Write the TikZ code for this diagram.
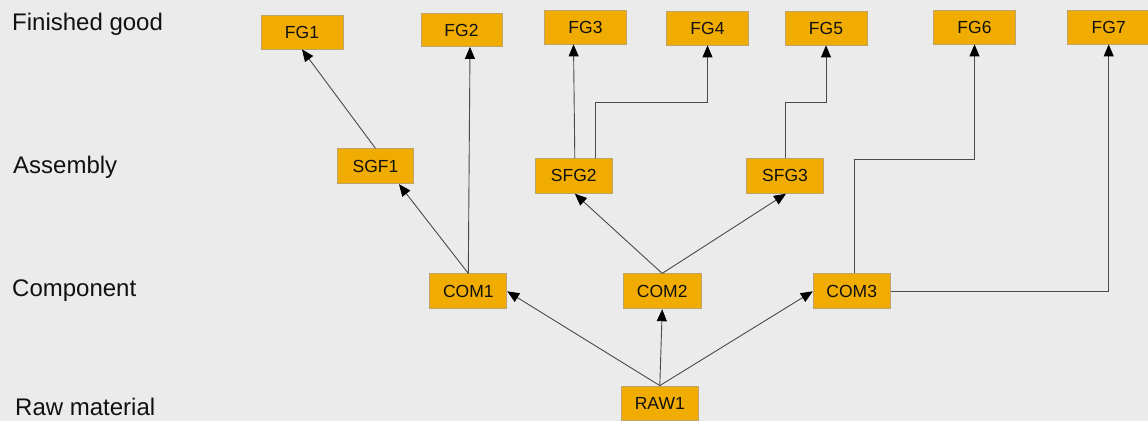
\documentclass[tikz,border=0pt]{standalone}
\usepackage{fontspec}
\setmainfont{Liberation Sans}
\usetikzlibrary{arrows.meta}
\definecolor{bg}{HTML}{EBEBEB}
\definecolor{boxfill}{HTML}{F0AC00}
\definecolor{boxline}{HTML}{BCA46A}
\definecolor{edgecol}{HTML}{4A4A4A}
\definecolor{txt}{HTML}{111111}
\tikzset{
  box/.style={draw=boxline, fill=boxfill, line width=0.8pt, inner sep=0pt,
    minimum width=77pt, minimum height=35pt, text=txt,
    font=\fontsize{17.5}{20}\selectfont},
  fgbox/.style={box, minimum width=82pt, minimum height=34pt},
  level/.style={anchor=base west, inner sep=0pt, text=txt,
    font=\fontsize{24}{28}\selectfont},
  arr/.style={draw=edgecol, line width=0.9pt,
    -{Triangle[length=12pt,width=10pt,color=black,fill=black]}},
}
\begin{document}
\begin{tikzpicture}[x=1pt, y=-1pt]
\fill[bg] (0,0) rectangle (1148,421);
\useasboundingbox (0,0) rectangle (1148,421);

% level labels
\node[level] (lfg) at (12,30.7) {Finished good};
\node[level] (las) at (13,173.3) {Assembly};
\node[level] (lco) at (12,296.7) {Component};
\node[level] (lra) at (15,415) {Raw material};

% finished goods
\node[fgbox] (fg1) at (302,32) {FG1};
\node[fgbox, minimum width=81pt, minimum height=33pt] (fg2) at (461.5,30) {FG2};
\node[fgbox] (fg3) at (585.5,27) {FG3};
\node[fgbox] (fg4) at (707.5,28) {FG4};
\node[fgbox] (fg5) at (826,28) {FG5};
\node[fgbox] (fg6) at (974.5,27) {FG6};
\node[fgbox] (fg7) at (1108.7,27) {FG7};

% assemblies
\node[box, minimum width=76pt] (sgf1) at (375.5,166.3) {SGF1};
\node[box] (sfg2) at (573.8,175.8) {SFG2};
\node[box] (sfg3) at (785,175.8) {SFG3};

% components
\node[box] (com1) at (468.3,291.3) {COM1};
\node[box, minimum width=78pt] (com2) at (662.2,291.3) {COM2};
\node[box] (com3) at (851.7,291.3) {COM3};

% raw material
\node[box, minimum height=34pt] (raw1) at (659.8,403) {RAW1};

% bend levels
\coordinate (bendA) at (0,102.3);
\coordinate (bendB) at (0,159.3);

% edges
\draw[arr] (sgf1.north) -- (fg1.south);
\draw[arr] (com1.north) -- ([xshift=23.5pt]sgf1.south);
\draw[arr] (com1.north) -- ([xshift=8.5pt]fg2.south);
\draw[arr] ([xshift=1pt]sfg2.north) -- ([xshift=-12pt]fg3.south);
\draw[arr] ([xshift=22pt]sfg2.north) |- (bendA -| fg4.south) -- (fg4.south);
\draw[arr] ([xshift=0.7pt]sfg3.north) |- (bendA -| fg5.south) -- (fg5.south);
\draw[arr] ([xshift=2.6pt]com3.north) |- (bendB -| fg6.south) -- (fg6.south);
\draw[arr] (com3.east) -| (fg7.south);
\draw[arr] (com2.north) -- ([xshift=1pt]sfg2.south);
\draw[arr] (com2.north) -- ([xshift=1pt]sfg3.south);
\draw[arr] (raw1.north) -- (com1.east);
\draw[arr] (raw1.north) -- (com2.south);
\draw[arr] (raw1.north) -- (com3.west);
\end{tikzpicture}
\end{document}
